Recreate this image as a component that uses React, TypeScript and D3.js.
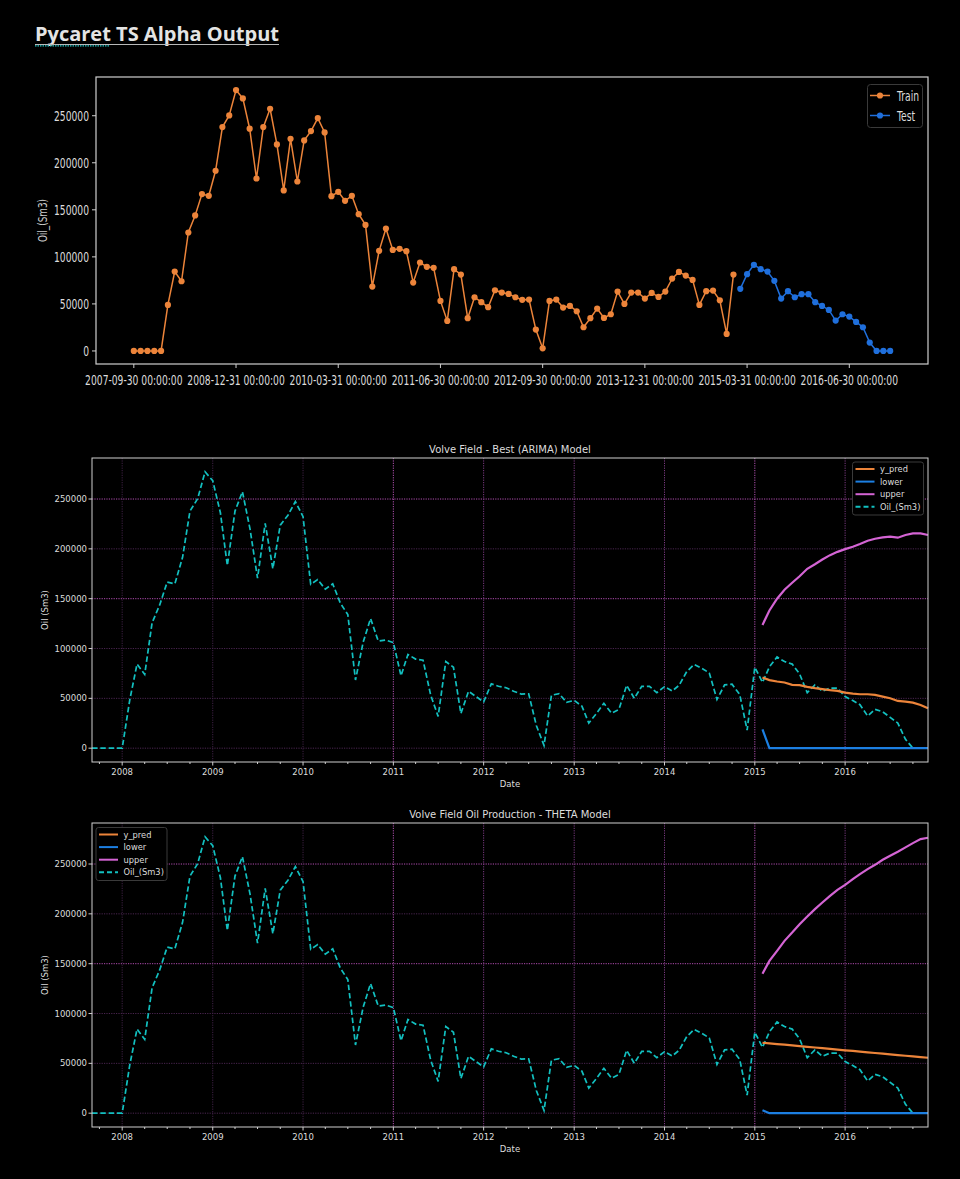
import React from "react";
import * as d3 from "d3";

// monthly oil production, 2007-09 .. 2015-01 (train) and 2015-02 .. 2016-12 (test)
const trainOil = [
  0, 0, 0, 0, 0, 48900, 84400, 74100, 125900, 144000, 166700, 164900, 191500,
  237900, 250300, 277300, 268400, 236200, 183300, 237900, 257400, 219500, 170600,
  225500, 180100, 223800, 233700, 247500, 232300, 164500, 169100, 159600, 164900,
  145400, 134000, 68400, 106400, 130100, 107400, 108500, 106000, 72700, 94000,
  89400, 88300, 53200, 31900, 86900, 81200, 34800, 57100, 51800, 46500, 64500,
  62100, 60600, 57100, 54300, 54600, 22700, 2800, 53200, 54600, 46100, 47900,
  42200, 25200, 34800, 45000, 35100, 39000, 63100, 50000, 62100, 62100, 55700,
  61700, 57400, 63100, 76900, 84000, 80100, 75500, 48900, 63500, 64200, 53900,
  18100, 81200,
];
const testOil = [
  66000, 81600, 91500, 86900, 84400, 74500, 55700, 63500, 57100, 60300, 60300,
  51800, 47900, 43600, 32300, 39000, 36500, 30900, 25200, 8900, 0, 0, 0,
];

const arimaPred = [
  71000, 68300, 66900, 65900, 63600, 63200, 61500, 60200, 59200, 58200, 57500,
  55800, 54800, 54100, 54100, 53500, 51800, 50100, 47400, 46700, 45700, 43400, 40000,
];
const arimaUpper = [
  123700, 138200, 150000, 159000, 166000, 172500, 180000, 184600, 189300, 193700,
  197000, 199700, 202100, 204800, 208100, 210100, 211500, 212200, 211200, 213900,
  215600, 215600, 213900,
];
const arimaLower = [
  18800, 0, 0, 0, 0, 0, 0, 0, 0, 0, 0, 0, 0, 0, 0, 0, 0, 0, 0, 0, 0, 0, 0,
];

const thetaPred = [
  70700, 70000, 69300, 68700, 68000, 67300, 66600, 65900, 65200, 64500, 63800,
  63100, 62500, 61800, 61100, 60400, 59700, 59000, 58300, 57600, 57000, 56300, 55600,
];
const thetaUpper = [
  140000, 152800, 162800, 172900, 181200, 189600, 197300, 204700, 211400, 218100,
  224100, 229100, 234800, 239900, 244900, 249200, 254300, 258300, 262300, 266700,
  271000, 275000, 276400,
];
const thetaLower = [
  3000, 0, 0, 0, 0, 0, 0, 0, 0, 0, 0, 0, 0, 0, 0, 0, 0, 0, 0, 0, 0, 0, 0,
];

const yTicks = [0, 50000, 100000, 150000, 200000, 250000];
const topTickEvery = 15;

const allOil = trainOil.concat(testOil);
const startMonth = new Date(2007, 8, 1);
const months = allOil.map((_, i) => d3.timeMonth.offset(startMonth, i));
const fcMonths = months.slice(trainOil.length);

const C_ORANGE = "#ec843a";
const C_BLUE = "#1c7fe2";
const C_MAGENTA = "#d464d4";
const C_CYAN = "#12c0c0";
const TXT = "#dcdcdc";

const fmtLabel = d3.timeFormat("%Y-%m-%d 00:00:00");
const monthEnd = (m: Date) => d3.timeDay.offset(d3.timeMonth.offset(m, 1), -1);

function CondText({ x, y, anchor, children, size = 13.5, fill = TXT, rotate = 0 }: any) {
  return (
    <text
      transform={`translate(${x},${y}) rotate(${rotate}) scale(0.68,1)`}
      textAnchor={anchor}
      fontSize={size}
      fill={fill}
      fontFamily="DejaVu Sans"
    >
      {children}
    </text>
  );
}

function TopChart() {
  const L = 96, R = 928, T = 77, B = 364;
  const n = allOil.length;
  const x = d3.scaleLinear().domain([-0.05 * (n - 1), (n - 1) * 1.05]).range([L, R]);
  const ymax = d3.max(allOil) as number;
  const y = d3.scaleLinear().domain([-0.05 * ymax, 1.05 * ymax]).range([B, T]);
  const line = d3.line<number>().x((_, i) => x(i)).y((d) => y(d));
  const testLine = d3
    .line<number>()
    .x((_, i) => x(i + trainOil.length))
    .y((d) => y(d));
  const xt = d3.range(0, n, topTickEvery);
  return (
    <g>
      <path d={line(trainOil) || ""} fill="none" stroke={C_ORANGE} strokeWidth={1.5} />
      {trainOil.map((d, i) => (
        <circle key={"tr" + i} cx={x(i)} cy={y(d)} r={3.1} fill={C_ORANGE} />
      ))}
      <path d={testLine(testOil) || ""} fill="none" stroke="#1f6fdc" strokeWidth={1.5} />
      {testOil.map((d, i) => (
        <circle key={"te" + i} cx={x(i + trainOil.length)} cy={y(d)} r={3.1} fill="#1f6fdc" />
      ))}
      <rect x={L} y={T} width={R - L} height={B - T} fill="none" stroke="#cfcfcf" strokeWidth={1.2} />
      {yTicks.map((t) => (
        <g key={"yt" + t}>
          <line x1={L - 4} x2={L} y1={y(t)} y2={y(t)} stroke="#cfcfcf" />
          <CondText x={L - 7} y={y(t) + 5} anchor="end">
            {t}
          </CondText>
        </g>
      ))}
      {xt.map((i) => (
        <g key={"xt" + i}>
          <line x1={x(i)} x2={x(i)} y1={B} y2={B + 4} stroke="#cfcfcf" />
          <CondText x={x(i)} y={B + 21} anchor="middle">
            {fmtLabel(monthEnd(months[i]))}
          </CondText>
        </g>
      ))}
      <CondText x={47} y={(T + B) / 2} anchor="middle" rotate={-90} size={13} fill="#cccccc">
        Oil_(Sm3)
      </CondText>
      <g>
        <rect x={867.5} y={84.5} width={55} height={43} rx={3} fill="#000" stroke="#3a3a3a" />
        <line x1={870} x2={890} y1={95.5} y2={95.5} stroke={C_ORANGE} strokeWidth={1.5} />
        <circle cx={880} cy={95.5} r={3.1} fill={C_ORANGE} />
        <CondText x={897} y={100.5} anchor="start">
          Train
        </CondText>
        <line x1={870} x2={890} y1={115.5} y2={115.5} stroke="#1f6fdc" strokeWidth={1.5} />
        <circle cx={880} cy={115.5} r={3.1} fill="#1f6fdc" />
        <CondText x={897} y={120.5} anchor="start">
          Test
        </CondText>
      </g>
    </g>
  );
}

const brightYears = [2011, 2015];
const midYears = [2012, 2013, 2014, 2016];
const brightY = [150000, 250000];

function ForecastPanel({ T, B, title, pred, lower, upper, legend }: any) {
  const L = 92, R = 928;
  const x = d3.scaleTime().domain([months[0], months[months.length - 1]]).range([L, R]);
  const ymax = d3.max([...allOil, ...upper]) as number;
  const y = d3.scaleLinear().domain([-0.05 * ymax, 1.05 * ymax]).range([B, T]);
  const fcLine = d3.line<number>().x((_, i) => x(fcMonths[i])).y((d) => y(d));
  const oilLine = d3.line<number>().x((_, i) => x(months[i])).y((d) => y(d));
  const years = d3.timeYear.range(new Date(2008, 0, 1), new Date(2017, 0, 1));
  const minor = d3.timeMonth
    .every(3)!
    .range(months[0], months[months.length - 1])
    .filter((d) => d.getMonth() !== 0);
  const fs = 8.5;
  const items = [
    { name: "y_pred", color: C_ORANGE, dash: "" },
    { name: "lower", color: C_BLUE, dash: "" },
    { name: "upper", color: C_MAGENTA, dash: "" },
    { name: "Oil_(Sm3)", color: C_CYAN, dash: "5,3" },
  ];
  return (
    <g fontFamily="DejaVu Sans">
      {yTicks.map((t) => (
        <line
          key={"gy" + t}
          x1={L}
          x2={R}
          y1={y(t)}
          y2={y(t)}
          stroke={brightY.includes(t) ? "#b04cb0" : "#4a2550"}
          strokeDasharray="1.2,1.2"
          strokeWidth={1}
        />
      ))}
      {years.map((d) => {
        const yr = d.getFullYear();
        const col = brightYears.includes(yr) ? "#b050b0" : midYears.includes(yr) ? "#7a3a80" : "#3e2044";
        return (
          <line key={"gx" + yr} x1={x(d)} x2={x(d)} y1={T} y2={B} stroke={col} strokeDasharray="1.2,1.2" />
        );
      })}
      <path d={oilLine(allOil) || ""} fill="none" stroke={C_CYAN} strokeWidth={1.7} strokeDasharray="5.5,2.8" />
      <path d={fcLine(pred) || ""} fill="none" stroke={C_ORANGE} strokeWidth={2.2} />
      <path d={fcLine(lower) || ""} fill="none" stroke={C_BLUE} strokeWidth={2.2} />
      <path d={fcLine(upper) || ""} fill="none" stroke={C_MAGENTA} strokeWidth={2.2} />
      <rect x={L} y={T} width={R - L} height={B - T} fill="none" stroke="#cfcfcf" strokeWidth={1} />
      {yTicks.map((t) => (
        <g key={"yt" + t}>
          <line x1={L - 3.5} x2={L} y1={y(t)} y2={y(t)} stroke="#cfcfcf" />
          <text x={L - 5} y={y(t) + 3} textAnchor="end" fontSize={fs} fill={TXT}>
            {t}
          </text>
        </g>
      ))}
      {years.map((d) => (
        <g key={"xt" + d.getFullYear()}>
          <line x1={x(d)} x2={x(d)} y1={B} y2={B + 3.5} stroke="#cfcfcf" />
          <text x={x(d)} y={B + 13} textAnchor="middle" fontSize={fs} fill={TXT}>
            {d.getFullYear()}
          </text>
        </g>
      ))}
      {minor.map((d, i) => (
        <line key={"mn" + i} x1={x(d)} x2={x(d)} y1={B} y2={B + 2} stroke="#cfcfcf" />
      ))}
      <text x={(L + R) / 2} y={B + 25} textAnchor="middle" fontSize={fs} fill={TXT}>
        Date
      </text>
      <text
        transform={`translate(${48},${(T + B) / 2}) rotate(-90)`}
        textAnchor="middle"
        fontSize={fs}
        fill={TXT}
      >
        Oil (Sm3)
      </text>
      <text x={(L + R) / 2} y={T - 5.5} textAnchor="middle" fontSize={10} fill={TXT}>
        {title}
      </text>
      <g transform={`translate(${legend[0]},${legend[1]})`}>
        <rect x={0} y={0} width={71} height={53} rx={2.5} fill="#000" stroke="#3a3a3a" />
        {items.map((it, i) => (
          <g key={it.name} transform={`translate(0,${7 + i * 12.6})`}>
            <line x1={3} x2={22} y1={0} y2={0} stroke={it.color} strokeWidth={2} strokeDasharray={it.dash} />
            <text x={27.5} y={3} fontSize={8.3} fill={TXT}>
              {it.name}
            </text>
          </g>
        ))}
      </g>
    </g>
  );
}

export default function App() {
  return (
    <svg
      width={960}
      height={1179}
      style={{ position: "absolute", left: 0, top: 0, background: "#000" }}
    >
      <rect x={0} y={0} width={960} height={1179} fill="#000" />
      <text
        x={35}
        y={41}
        fontFamily="Open Sans"
        fontWeight="bold"
        fontSize={20}
        fill="#e4e4e4"
        textLength={244}
        lengthAdjust="spacingAndGlyphs"
      >
        Pycaret TS Alpha Output
      </text>
      <line x1={35} x2={279} y1={44.5} y2={44.5} stroke="#b8b8b8" strokeWidth={1.2} />
      <line x1={35} x2={109} y1={45.8} y2={45.8} stroke="#20c8c8" strokeWidth={1.2} strokeDasharray="1.5,1" />
      <TopChart />
      <ForecastPanel
        T={458}
        B={762}
        title="Volve Field - Best (ARIMA) Model"
        pred={arimaPred}
        lower={arimaLower}
        upper={arimaUpper}
        legend={[852.5, 462]}
      />
      <ForecastPanel
        T={823}
        B={1127}
        title="Volve Field Oil Production - THETA Model"
        pred={thetaPred}
        lower={thetaLower}
        upper={thetaUpper}
        legend={[96, 827.5]}
      />
    </svg>
  );
}
